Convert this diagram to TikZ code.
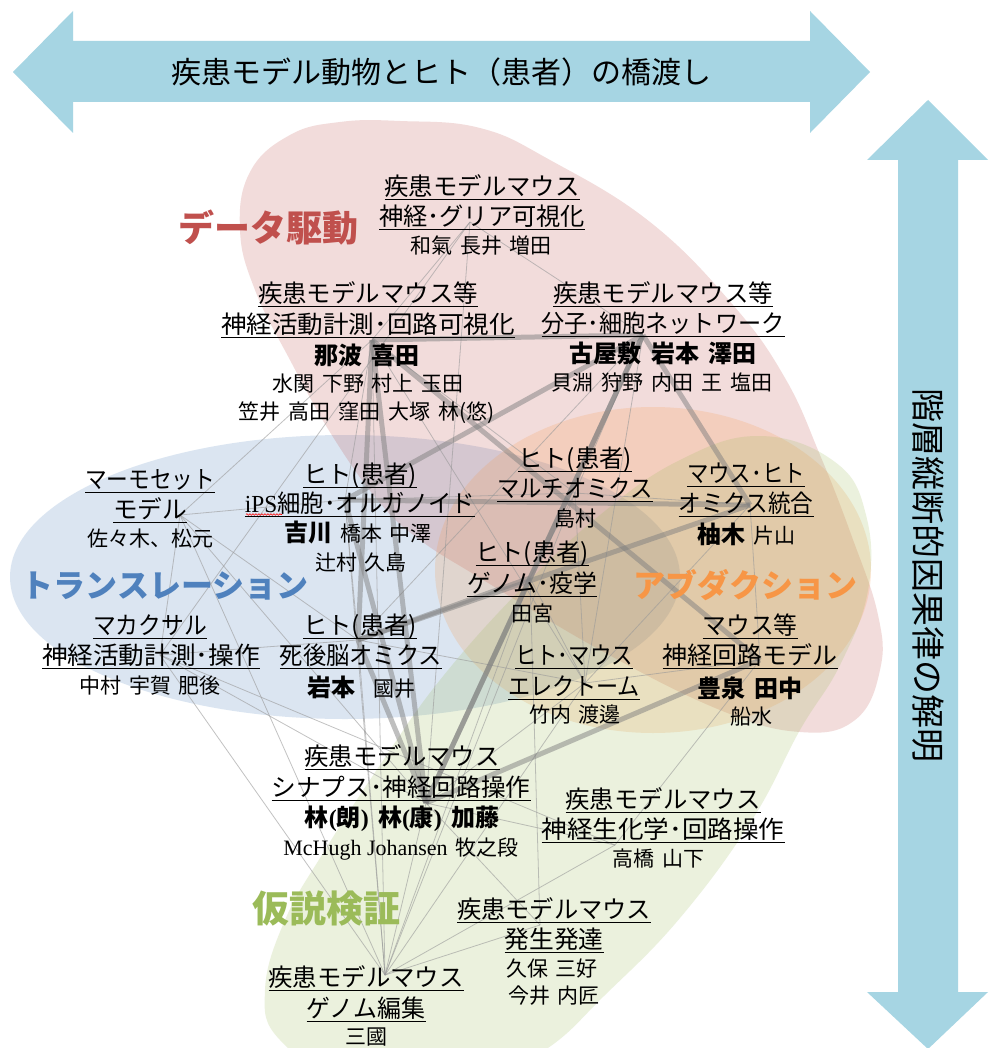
\documentclass[tikz,border=0pt]{standalone}
\usepackage{fontspec}
\usepackage{graphicx}
\setmainfont{Noto Sans CJK JP}
\newfontfamily\serifjp{Liberation Serif}
\usetikzlibrary{decorations.pathmorphing}
\definecolor{arrowblue}{RGB}{166,213,227}
\definecolor{cred}{HTML}{C0504D}
\definecolor{cblue}{HTML}{4F81BD}
\definecolor{corange}{HTML}{F79646}
\definecolor{cgreen}{HTML}{9BBB59}
\newcommand\gp{\hspace{0.38em}}
\newcommand\ulbox[1]{\setbox0\hbox{#1}\rlap{\rule[-0.2em]{\wd0}{0.055em}}\box0}
\newcommand\ulw[2]{\resizebox{#1pt}{\height}{\ulbox{#2}}}
\newcommand\bn[1]{{\fontsize{24}{28}\selectfont\bfseries #1}}
\tikzset{
  ttl/.style={font=\fontsize{24.5}{28}\selectfont, inner sep=0pt, anchor=base},
  nm/.style={font=\fontsize{21}{24}\selectfont, inner sep=0pt, anchor=base},
  nmb/.style={font=\fontsize{24}{28}\selectfont\bfseries, inner sep=0pt, anchor=base},
  catlabel/.style={inner sep=0pt, anchor=base},
  blob/.style={fill opacity=0.2},
  bigedge/.style={line width=5pt, draw=black!50, draw opacity=0.5},
  smalledge/.style={line width=0.8pt, draw=black!40, draw opacity=0.6},
  bluearrow/.style={fill=arrowblue, draw=none},
}
\begin{document}
\begin{tikzpicture}[x=1pt,y=-1pt]
\useasboundingbox (0,0) rectangle (995,1048);
\clip (0,0) rectangle (995,1048);
\fill[white] (0,0) rectangle (995,1048);

% ---------- arrows ----------
\fill[bluearrow] (13,72) -- (73,11) -- (73,41) -- (810,41) -- (810,11) -- (870,72)
  -- (810,133) -- (810,102) -- (73,102) -- (73,133) -- cycle;
\fill[bluearrow] (928,100) -- (988,160) -- (958,160) -- (958,992) -- (988,992) -- (928,1049)
  -- (867,992) -- (898,992) -- (898,160) -- (867,160) -- cycle;
\node[inner sep=0pt, font=\fontsize{30}{34}\selectfont] (title) at (441,72) {疾患モデル動物とヒト（患者）の橋渡し};
\node[inner sep=0pt, rotate=-90, font=\fontsize{34}{38}\selectfont] (vtitle) at (928,575) {階層縦断的因果律の解明};

% ---------- blobs ----------
\fill[blob, cblue] (345,577) ellipse [x radius=335, y radius=142];
\fill[blob, cred] plot[smooth cycle, tension=0.7] coordinates {(400,121) (480,128) (550,160) (650,222) (733,305) (785,378) (820,455) (852,537) (878,615) (880,670) (855,720) (800,732) (720,710) (600,650) (480,578) (420,540) (380,503) (333,437) (290,360) (255,290) (240,230) (250,172) (290,135) (340,122)};
\fill[blob, corange] (653,570) ellipse [x radius=218, y radius=163];
\fill[blob, cgreen] plot[smooth cycle, tension=0.7] coordinates {(760,436) (835,462) (866,515) (868,590) (840,665) (800,730) (752,820) (680,918) (605,995) (545,1050) (470,1085) (350,1080) (280,1040) (265,990) (285,920) (325,850) (380,765) (440,680) (520,590) (600,515) (680,460)};

% ---------- network anchors ----------
\coordinate (nA) at (470,222);
\coordinate (nB) at (372,340);
\coordinate (nC) at (643,335);
\coordinate (nD) at (180,515);
\coordinate (nE) at (345,500);
\coordinate (nF) at (575,493);
\coordinate (nG) at (750,505);
\coordinate (nH) at (530,578);
\coordinate (nI) at (160,655);
\coordinate (nJ) at (358,640);
\coordinate (nK) at (585,683);
\coordinate (nL) at (760,660);
\coordinate (nM) at (426,803);
\coordinate (nN) at (615,845);
\coordinate (nO) at (540,925);
\coordinate (nP) at (385,975);

% thin edges
\foreach \a/\b in {A/B,A/C,A/I,A/M,B/D,B/E,B/F,B/K,B/P,C/F,C/K,C/J,D/E,D/I,D/J,D/M,D/P,E/F,E/J,E/P,F/G,F/H,F/K,F/P,G/L,G/K,H/K,H/O,I/J,I/M,I/N,I/P,J/K,J/P,K/L,K/M,K/P,L/N,M/N,M/O,M/P,N/P,O/P,H/P}
  \draw[smalledge] (n\a) -- (n\b);
% thick edges
\foreach \a/\b in {B/C,B/J,B/M,B/L,C/E,C/H,C/M,C/G,E/G,E/M,J/H,J/M,J/G,M/H,M/L}
  \draw[bigedge] (n\a) -- (n\b);

% ---------- category labels ----------
\node[catlabel, text=cred, font=\fontsize{36}{40}\selectfont\bfseries] (catData) at (268,241.7) {データ駆動};
\node[catlabel, text=cblue, font=\fontsize{32}{36}\selectfont\bfseries] (catTrans) at (165,597.2) {トランスレーション};
\node[catlabel, text=corange, font=\fontsize{32}{36}\selectfont\bfseries] (catAbd) at (745,597.2) {アブダクション};
\node[catlabel, text=cgreen, font=\fontsize{37}{40}\selectfont\bfseries] (catHyp) at (326,922) {仮説検証};

% ---------- A ----------
\node[ttl] (A1) at (482,195.3) {\ulw{195}{疾患モデルマウス}};
\node[ttl] (A2) at (482,225.3) {\ulw{206}{神経･グリア可視化}};
\node[nm]  (A3) at (481,254) {和氣\gp 長井\gp 増田};
% ---------- B ----------
\node[ttl] (B1) at (368,302.3) {\ulw{220}{疾患モデルマウス等}};
\node[ttl] (B2) at (368,333.3) {\ulw{294}{神経活動計測･回路可視化}};
\node[nmb] (B3) at (367,364.1) {那波\gp 喜田};
\node[nm]  (B4) at (368,391) {水関\gp 下野\gp 村上\gp 玉田};
\node[nm]  (B5) at (367,419) {笠井\gp 高田\gp 窪田\gp 大塚\gp 林(悠)};
% ---------- C ----------
\node[ttl] (C1) at (663,302.3) {\ulw{220}{疾患モデルマウス等}};
\node[ttl] (C2) at (663,332.3) {\ulw{243}{分子･細胞ネットワーク}};
\node[nmb] (C3) at (663,362.1) {古屋敷\gp 岩本\gp 澤田};
\node[nm]  (C4) at (662,390) {貝淵\gp 狩野\gp 内田\gp 王\gp 塩田};
% ---------- D ----------
\node[ttl] (D1) at (150,488.3) {\ulw{130}{マーモセット}};
\node[ttl] (D2) at (150,518.3) {\ulw{74}{モデル}};
\node[nm]  (D3) at (150,546) {佐々木、松元};
% ---------- E ----------
\node[ttl] (E1) at (360,483.3) {\ulw{114}{ヒト(患者)}};
\node[ttl] (E2) at (360,512.3) {\ulw{230}{{\serifjp iPS}細胞･オルガノイド}};
\draw[red, line width=0.6pt, decorate, decoration={snake, amplitude=0.8pt, segment length=3pt}] (246,514.5) -- (282,514.5);
\node[nm]  (E3) at (358,541.1) {\bn{吉川}\gp 橋本\gp 中澤};
\node[nm]  (E4) at (361,570) {辻村\gp 久島};
% ---------- F ----------
\node[ttl] (F1) at (575,467.3) {\ulw{114}{ヒト(患者)}};
\node[ttl] (F2) at (575,497.3) {\ulw{156}{マルチオミクス}};
\node[nm]  (F3) at (575,526) {島村};
% ---------- G ----------
\node[ttl] (G1) at (746,482.3) {\ulw{118}{マウス･ヒト}};
\node[ttl] (G2) at (746,512.3) {\ulw{135}{オミクス統合}};
\node[nm]  (G3) at (746,543) {\bn{柚木}\gp 片山};
% ---------- H ----------
\node[ttl] (H1) at (532,561.3) {\ulw{113}{ヒト(患者)}};
\node[ttl] (H2) at (532,592.3) {\ulw{130}{ゲノム･疫学}};
\node[nm]  (H3) at (532,621) {田宮};
% ---------- I ----------
\node[ttl] (I1) at (150,634.3) {\ulw{114}{マカクサル}};
\node[ttl] (I2) at (151,664.3) {\ulw{218}{神経活動計測･操作}};
\node[nm]  (I3) at (150,693) {中村\gp 宇賀\gp 肥後};
% ---------- J ----------
\node[ttl] (J1) at (360,634.3) {\ulw{114}{ヒト(患者)}};
\node[ttl] (J2) at (361,664.3) {\ulw{162}{死後脳オミクス}};
\node[nm]  (J3) at (361,696) {\bn{岩本}\hspace{18pt}國井};
% ---------- K ----------
\node[ttl] (K1) at (574,664.3) {\ulw{118}{ヒト･マウス}};
\node[ttl] (K2) at (574,695.3) {\ulw{132}{エレクトーム}};
\node[nm]  (K3) at (575,722) {竹内\gp 渡邊};
% ---------- L ----------
\node[ttl] (L1) at (750,634.3) {\ulw{95}{マウス等}};
\node[ttl] (L2) at (750,664.3) {\ulw{175}{神経回路モデル}};
\node[nmb] (L3) at (750,697.1) {豊泉\gp 田中};
\node[nm]  (L4) at (751,724) {船水};
% ---------- M ----------
\node[ttl] (M1) at (402,765.3) {\ulw{195}{疾患モデルマウス}};
\node[ttl] (M2) at (401,796.3) {\ulw{259}{シナプス･神経回路操作}};
\node[nmb] (M3) at (402,826.1) {林{\serifjp (}朗{\serifjp )}\gp 林{\serifjp (}康{\serifjp )}\gp 加藤};
\node[nm]  (M4) at (401,855) {{\serifjp\fontsize{22}{24}\selectfont McHugh Johansen}\gp 牧之段};
% ---------- N ----------
\node[ttl] (N1) at (663,808.3) {\ulw{195}{疾患モデルマウス}};
\node[ttl] (N2) at (663,838.3) {\ulw{243}{神経生化学･回路操作}};
\node[nm]  (N3) at (658,866) {高橋\gp 山下};
% ---------- O ----------
\node[ttl] (O1) at (554,918.3) {\ulw{194}{疾患モデルマウス}};
\node[ttl] (O2) at (554,948.3) {\ulw{99}{発生発達}};
\node[nm]  (O3) at (552,976) {久保\gp 三好};
\node[nm]  (O4) at (554,1003) {今井\gp 内匠};
% ---------- P ----------
\node[ttl] (P1) at (366,986.3) {\ulw{195}{疾患モデルマウス}};
\node[ttl] (P2) at (366,1017.3) {\ulw{119}{ゲノム編集}};
\node[nm]  (P3) at (366,1044) {三國};
\end{tikzpicture}
\end{document}
